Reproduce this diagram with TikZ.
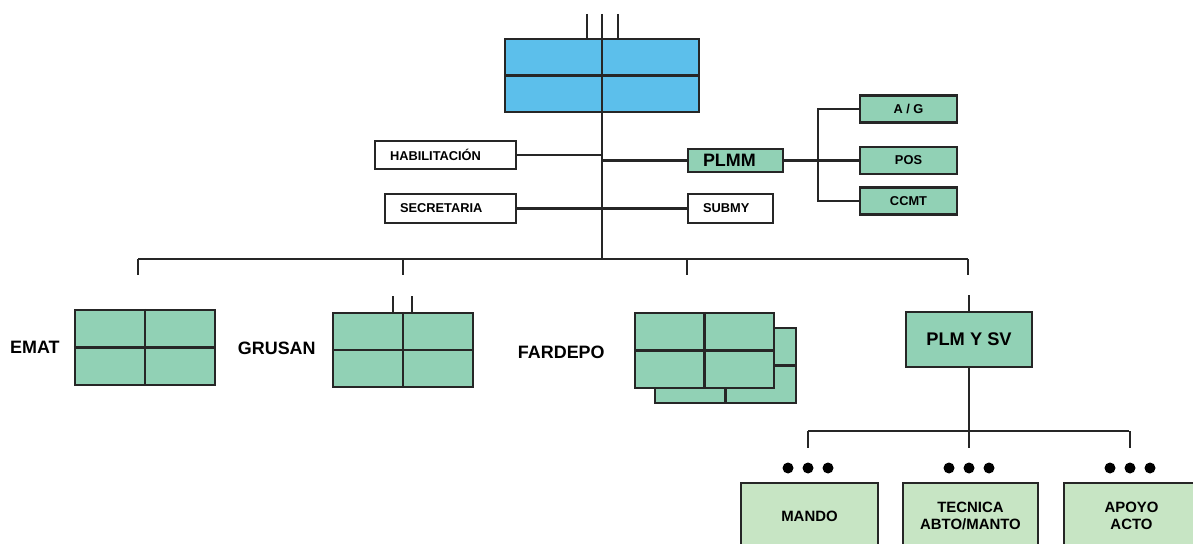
\documentclass[tikz,border=0pt]{standalone}
\usepackage{fontspec}
\setmainfont{Liberation Sans}
\usetikzlibrary{positioning}
\definecolor{celeste}{rgb}{0.36,0.75,0.92}
\definecolor{verdeagua}{rgb}{0.57,0.82,0.71}
\definecolor{verdeclaro}{rgb}{0.78,0.90,0.77}
\tikzset{
  linea/.style={
    line width=1.2pt,
    black!85
  },
  caja/.style={
    draw=black!85,
    line width=1.2pt,
    fill=white,
    align=center,
    inner sep=0pt,
    font=\fontsize{7.3}{8.8}\selectfont\bfseries
  },
  cajatexto/.style={
    caja,
    align=left,
    inner xsep=.3cm
  },
  cajaverde/.style={
    caja,
    fill=verdeagua,
    minimum width=1.94cm,
    minimum height=.54cm
  },
  cajaclara/.style={
    caja,
    fill=verdeclaro,
    minimum height=1.32cm,
    font=\fontsize{8.5}{9.6}\selectfont\bfseries
  },
  cuadro/.style={
    draw=black!85,
    line width=1.2pt,
    fill=verdeagua,
    inner sep=0pt,
    minimum width=2.8cm,
    minimum height=1.5cm
  },
  etiqueta/.style={
    inner sep=0pt,
    font=\fontsize{10.2}{12}\selectfont\bfseries
  },
  punto/.style={
    circle,
    fill=black,
    inner sep=0pt,
    minimum size=.22cm
  }
}

\begin{document}
\begin{tikzpicture}[x=.02cm,y=-.02cm]
\useasboundingbox (0,0) rectangle (1193,544);
% cabecera
\node[cuadro,fill=celeste,minimum width=3.88cm,minimum height=1.46cm] (jefe) at (602,75.5) {};
\draw[linea] (jefe.west) -- (jefe.east);
\coordinate (arriba) at (602,14);
\coordinate (arribaI) at (587,14);
\coordinate (arribaD) at (618,14);
\coordinate (bus) at (602,259);
\draw[linea] (arriba) -- (bus);
\draw[linea] (arribaI) -- (arribaI |- jefe.north);
\draw[linea] (arribaD) -- (arribaD |- jefe.north);
% staff
\node[cajatexto,text width=2.22cm,minimum height=.56cm] (hab) at (445.5,155) {HABILITACIÓN};
\node[cajatexto,text width=2.02cm,minimum height=.58cm] (sec) at (450.5,208.5) {SECRETARIA};
\node[cajatexto,text width=1.1cm,minimum height=.58cm] (submy) at (730.5,208.5) {SUBMY};
\node[cajatexto,fill=verdeagua,text width=1.3cm,minimum height=.46cm,font=\fontsize{10.2}{12}\selectfont\bfseries] (plmm) at (735.5,160.5) {PLMM};
\draw[linea] (hab.east) -- (hab.east -| bus);
\draw[linea] (sec.east) -- (submy.west);
\draw[linea] (plmm.west -| bus) -- (plmm.west);
% rama PLMM
\node[cajaverde] (ag) at (908.5,109) {A / G};
\node[cajaverde] (pos) at (908.5,160.5) {POS};
\node[cajaverde] (ccmt) at (908.5,201) {CCMT};
\coordinate (rama) at (818,160.5);
\draw[linea] (plmm.east) -- (rama);
\draw[linea] (ag.west) -| (rama) |- (ccmt.west);
\draw[linea] (rama) -- (pos.west);
% barra de dependencias
\coordinate (busI) at (138,259);
\coordinate (busD) at (968,259);
\draw[linea] (busI) -- (busD);
\foreach \x/\n in {138/t1,403/t2,687/t3,968/t4} {
  \coordinate (\n) at (\x,275);
  \draw[linea] (\n |- busI) -- (\n);
}
% unidades
\node[cuadro] (emat) at (145,347.5) {};
\node[cuadro,minimum height=1.48cm] (grusan) at (403,350) {};
\node[cuadro,minimum width=2.82cm] (fardepoB) at (725.5,365.5) {};
\draw[linea] (fardepoB.north) -- (fardepoB.south);
\draw[linea] (fardepoB.west) -- (fardepoB.east);
\node[cuadro,minimum width=2.78cm] (fardepo) at (704.5,350.5) {};
\foreach \n in {emat,grusan,fardepo} {
  \draw[linea] (\n.north) -- (\n.south);
  \draw[linea] (\n.west) -- (\n.east);
}
\node[etiqueta,left=.28cm of emat] (lemat) {EMAT};
\node[etiqueta,left=.32cm of grusan,yshift=.04cm] (lgrusan) {GRUSAN};
\node[etiqueta,left=.58cm of fardepo,yshift=-.03cm] (lfardepo) {FARDEPO};
\coordinate (gI) at (393,296);
\coordinate (gD) at (412,296);
\draw[linea] (gI) -- (gI |- grusan.north);
\draw[linea] (gD) -- (gD |- grusan.north);
% PLM Y SV
\node[caja,fill=verdeagua,minimum width=2.52cm,minimum height=1.1cm,font=\fontsize{10.4}{12}\selectfont\bfseries] (plmsv) at (969,339.5) {PLM Y SV};
\coordinate (plmsvT) at (969,295);
\draw[linea] (plmsvT) -- (plmsv.north);
\coordinate (bus2) at (969,431);
\draw[linea] (plmsv.south) -- (bus2);
\coordinate (bus2I) at (808,431);
\coordinate (bus2D) at (1129,431);
\draw[linea] (bus2I) -- (bus2D);
% secciones
\node[cajaclara,minimum width=2.74cm] (mando) at (809.5,516) {MANDO};
\node[cajaclara,minimum width=2.7cm] (tecnica) at (970.5,516) {TECNICA\\ABTO/MANTO};
\node[cajaclara,minimum width=2.7cm] (apoyo) at (1131.5,516) {APOYO\\ACTO};
\foreach \x/\n in {808/s1,969/s2,1130/s3} {
  \coordinate (\n) at (\x,448);
  \draw[linea] (\n |- bus2I) -- (\n);
  \foreach \d in {-20,0,20}
    \node[punto] at (\x+\d,468) {};
}
\end{tikzpicture}
\end{document}
